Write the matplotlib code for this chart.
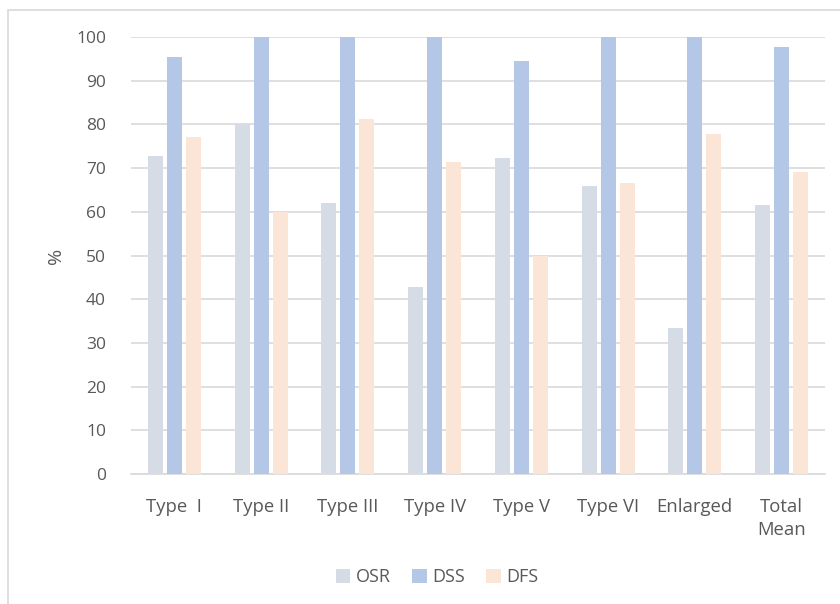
import matplotlib
matplotlib.use("Agg")
import matplotlib.pyplot as plt
import numpy as np
from matplotlib.patches import Rectangle

plt.rcParams['font.family'] = ['Open Sans', 'DejaVu Sans']

categories = ["Type  I", "Type II", "Type III", "Type IV", "Type V", "Type VI", "Enlarged", "Total\nMean"]
osr = [72.7, 80.0, 62.0, 42.9, 72.2, 66.0, 33.3, 61.5]
dss = [95.5, 100.0, 100.0, 100.0, 94.4, 100.0, 100.0, 97.8]
dfs = [77.1, 60.0, 81.3, 71.4, 50.0, 66.7, 77.8, 69.2]
series_names = ["OSR", "DSS", "DFS"]
colors = ["#D6DCE5", "#B4C7E7", "#FBE5D6"]
text_color = "#595959"

fig = plt.figure(figsize=(8.4, 6.04), dpi=100)
ax = fig.add_axes([131/840, 1-474/604, (825-131)/840, (474-37)/604])

# outer chart border
fig.add_artist(Rectangle((8/840, -0.1), 1.1, 1 - 10/604 + 0.1, transform=fig.transFigure,
                         fill=False, edgecolor="#D9D9D9", linewidth=1.2))

x = np.arange(len(categories))
w = 0.173
step = 0.219
for i, (vals, name, c) in enumerate(zip([osr, dss, dfs], series_names, colors)):
    ax.bar(x + (i - 1) * step, vals, width=w, color=c, label=name, zorder=3)

ax.set_xlim(-0.5, len(categories) - 0.5)
ax.set_ylim(0, 100)
ax.set_yticks(np.arange(0, 101, 10))
ax.set_xticks(x)
ax.set_xticklabels(categories, fontsize=13.3, color=text_color, linespacing=1.4)
ax.tick_params(axis='y', labelsize=12.5, colors=text_color, length=0, pad=18)
ax.tick_params(axis='x', length=0, pad=17, colors=text_color)
ax.grid(axis='y', color="#D9D9D9", linewidth=1.2, zorder=0)
for s in ["top", "right", "left"]:
    ax.spines[s].set_visible(False)
ax.spines["bottom"].set_color("#D9D9D9")
ax.spines["bottom"].set_linewidth(1.2)
ax.set_ylabel("%", fontsize=14, color=text_color, labelpad=8)

fig.legend(loc="center", bbox_to_anchor=(437/840, 1-577/604), ncol=3, frameon=False,
           fontsize=13, labelcolor=text_color, handlelength=0.8, handleheight=0.8,
           handletextpad=0.3, columnspacing=1.2)

fig.savefig("out.png", dpi=100, facecolor="white")
